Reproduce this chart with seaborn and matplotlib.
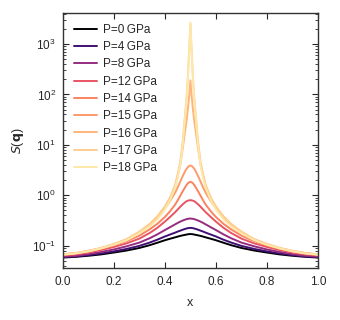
import matplotlib
matplotlib.use('Agg')

import matplotlib.pyplot as plt
import seaborn as sns
import numpy as np
import pandas as pd

# pressures (GPa) shown in the legend
pressures = [0, 4, 8, 12, 14, 15, 16, 17, 18]

# distance from the peak centre at x = 0.5 (profiles are symmetric)
offsets = [0.0, 0.005, 0.01, 0.015, 0.02, 0.03, 0.04, 0.05, 0.06, 0.08, 0.1,
           0.13, 0.16, 0.2, 0.25, 0.3, 0.35, 0.4, 0.45, 0.5]

# S(q) at each offset
s_p0 = [0.170, 0.169, 0.168, 0.166, 0.164, 0.160, 0.156, 0.151, 0.146, 0.137, 0.128,
        0.114, 0.102, 0.090, 0.080, 0.073, 0.067, 0.063, 0.060, 0.058]
s_p4 = [0.225, 0.224, 0.222, 0.219, 0.215, 0.207, 0.198, 0.190, 0.181, 0.166, 0.152,
        0.131, 0.115, 0.099, 0.086, 0.077, 0.070, 0.065, 0.061, 0.059]
s_p8 = [0.345, 0.343, 0.340, 0.335, 0.329, 0.315, 0.299, 0.282, 0.264, 0.232, 0.204,
        0.167, 0.140, 0.115, 0.097, 0.084, 0.075, 0.068, 0.063, 0.061]
s_p12 = [0.80, 0.79, 0.78, 0.76, 0.73, 0.66, 0.59, 0.52, 0.46, 0.37, 0.30,
         0.225, 0.178, 0.138, 0.111, 0.094, 0.082, 0.073, 0.067, 0.064]
s_p14 = [1.85, 1.80, 1.72, 1.60, 1.46, 1.20, 0.97, 0.79, 0.65, 0.48, 0.37,
         0.27, 0.21, 0.158, 0.123, 0.101, 0.087, 0.076, 0.070, 0.066]
s_p15 = [3.9, 3.8, 3.6, 3.35, 3.05, 2.4, 1.85, 1.42, 1.12, 0.76, 0.55,
         0.37, 0.26, 0.183, 0.132, 0.106, 0.089, 0.078, 0.071, 0.067]
s_p16 = [190, 90, 50, 30, 20, 8.5, 4.0, 2.4, 1.5, 0.85, 0.57,
         0.36, 0.26, 0.185, 0.132, 0.106, 0.089, 0.078, 0.071, 0.067]
s_p17 = [2500, 700, 220, 90, 45, 12, 4.5, 2.6, 1.6, 0.90, 0.60,
         0.38, 0.27, 0.190, 0.135, 0.108, 0.090, 0.079, 0.071, 0.067]
s_p18 = [2700, 650, 200, 80, 40, 10, 3.8, 2.2, 1.4, 0.78, 0.52,
         0.33, 0.24, 0.175, 0.128, 0.104, 0.088, 0.077, 0.070, 0.066]

profiles = [s_p0, s_p4, s_p8, s_p12, s_p14, s_p15, s_p16, s_p17, s_p18]

# build a long table, mirroring each half-profile about x = 0.5
d = np.array(offsets)
x_full = np.concatenate([0.5 - d[::-1], 0.5 + d[1:]])
labels = [f'P={p}\u2009GPa' for p in pressures]
rows = []
for lab, prof in zip(labels, profiles):
    v = np.array(prof)
    v_full = np.concatenate([v[::-1], v[1:]])
    for xi, si in zip(x_full, v_full):
        rows.append({'x': xi, 'S': si, 'P': lab})
df = pd.DataFrame(rows)

sns.set_style('ticks')
plt.rcParams['font.family'] = ['Liberation Sans', 'DejaVu Sans']
plt.rcParams['mathtext.default'] = 'regular'
plt.rcParams['font.size'] = 8

# colour follows the pressure value on the magma map
palette = {lab: plt.cm.magma(p / 18 * 0.95) for lab, p in zip(labels, pressures)}

fig = plt.figure(figsize=(3.4, 3.2), dpi=100)
ax = fig.add_axes([0.185, 0.1625, 0.75, 0.7965])
sns.lineplot(data=df, x='x', y='S', hue='P', hue_order=labels, palette=palette,
             linewidth=1.4, ax=ax)

ax.set_yscale('log')
ax.set_xlim(0, 1)
ax.set_ylim(0.036, 4100)
ax.set_xticks([0.0, 0.2, 0.4, 0.6, 0.8, 1.0])
ax.set_xlabel('x', fontsize=9, labelpad=6)
ax.set_ylabel(r'$\mathit{S}$($\mathbf{q}$)', fontsize=9, labelpad=4)
ax.tick_params(which='both', direction='in', top=True, right=True, labelsize=8.5)
ax.tick_params(axis='x', pad=6)
ax.tick_params(axis='y', pad=5)
ax.tick_params(which='major', length=4)
ax.tick_params(which='minor', length=2)
for sp in ax.spines.values():
    sp.set_color('#333333')
    sp.set_linewidth(1.0)

leg = ax.legend(loc='upper left', frameon=False, fontsize=8.5, handlelength=2.0,
                handletextpad=0.5, labelspacing=0.45, borderaxespad=0.5)

plt.savefig('out.png', dpi=100)
plt.close()
